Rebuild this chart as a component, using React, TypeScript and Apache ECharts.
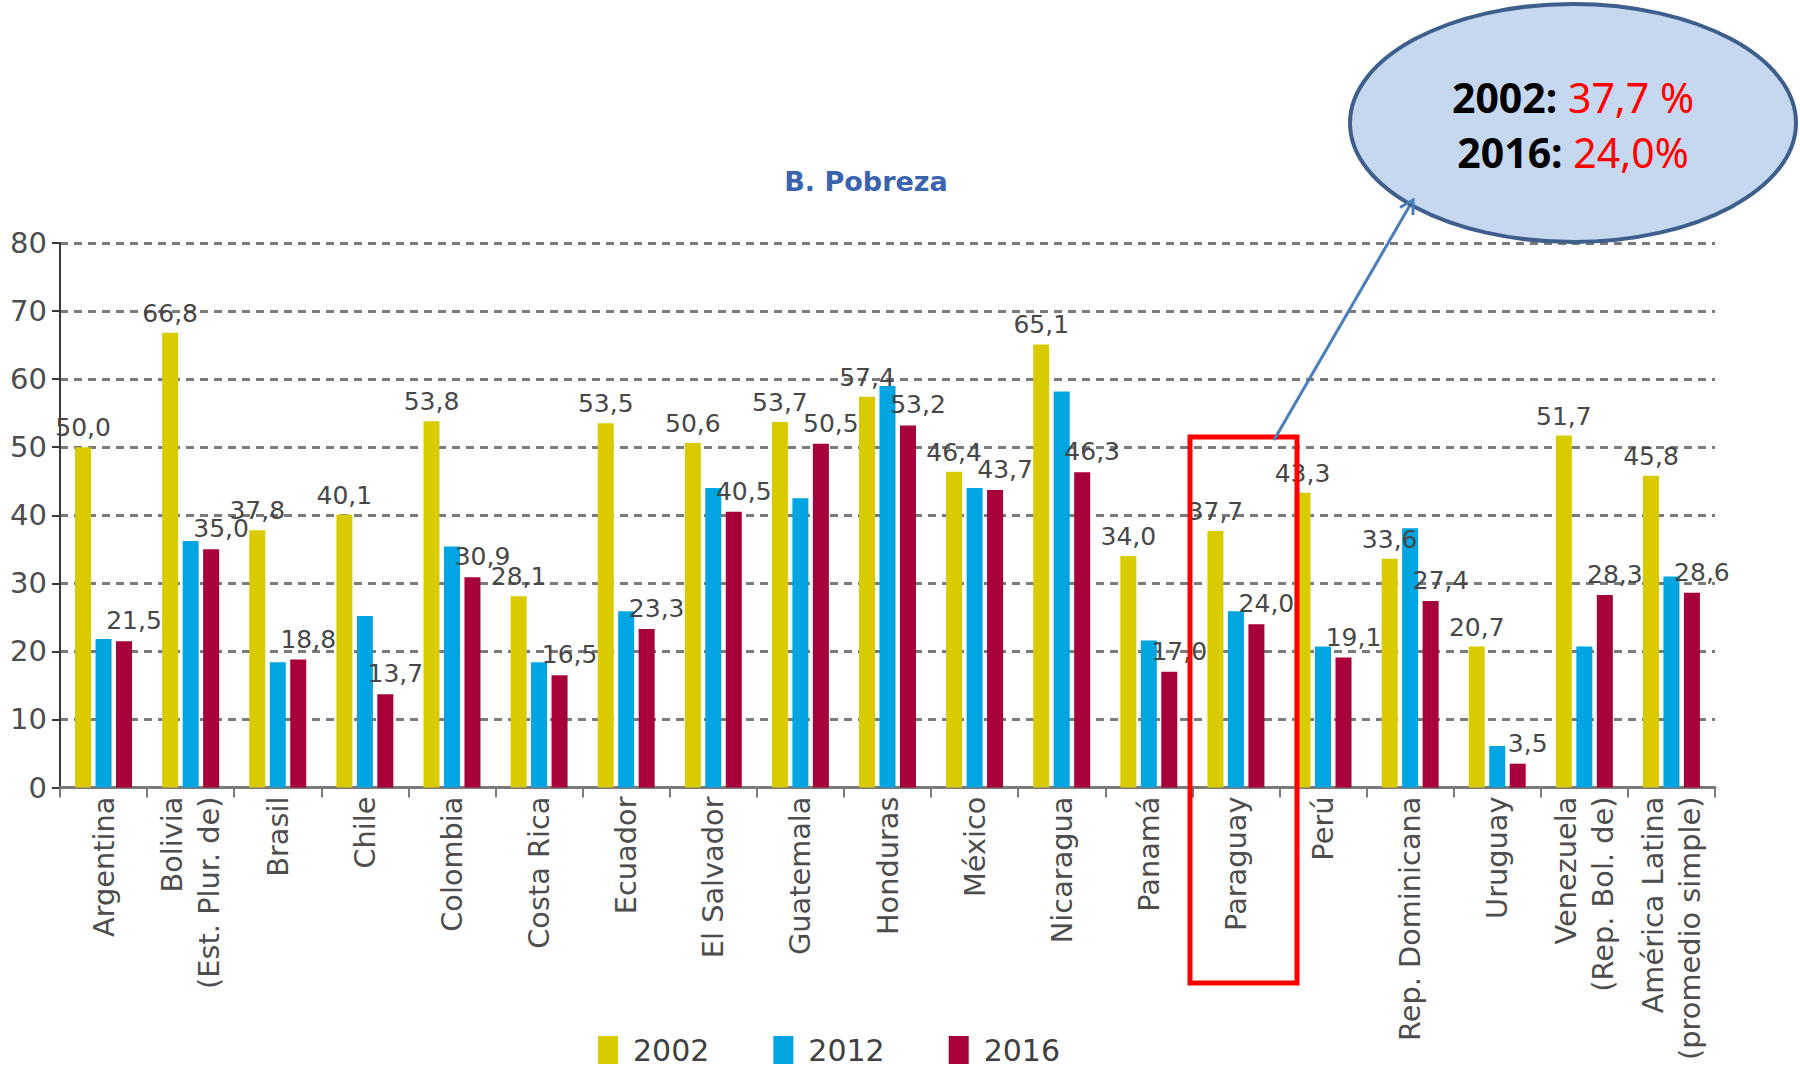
import React, { useEffect, useRef } from "react";
import * as echarts from "echarts";

const categories = [
  "Argentina",
  "Bolivia\n(Est. Plur. de)",
  "Brasil",
  "Chile",
  "Colombia",
  "Costa Rica",
  "Ecuador",
  "El Salvador",
  "Guatemala",
  "Honduras",
  "México",
  "Nicaragua",
  "Panamá",
  "Paraguay",
  "Perú",
  "Rep. Dominicana",
  "Uruguay",
  "Venezuela\n(Rep. Bol. de)",
  "América Latina\n(promedio simple)",
];
const seriesNames = ["2002", "2012", "2016"];
const values2002 = [50.0, 66.8, 37.8, 40.1, 53.8, 28.1, 53.5, 50.6, 53.7, 57.4, 46.4, 65.1, 34.0, 37.7, 43.3, 33.6, 20.7, 51.7, 45.8];
const values2012 = [21.8, 36.2, 18.4, 25.2, 35.4, 18.4, 25.9, 44.0, 42.5, 59.0, 44.0, 58.2, 21.6, 25.9, 20.7, 38.1, 6.1, 20.7, 31.0];
const values2016 = [21.5, 35.0, 18.8, 13.7, 30.9, 16.5, 23.3, 40.5, 50.5, 53.2, 43.7, 46.3, 17.0, 24.0, 19.1, 27.4, 3.5, 28.3, 28.6];
const yMin = 0;
const yMax = 80;
const yInterval = 10;

const titleText = "B. Pobreza";
const noteLine1 = ["2002:", "37,7 %"];
const noteLine2 = ["2016:", "24,0%"];

const colors = ["#D9CB00", "#00A5E2", "#A8003B"];
const FONT = "DejaVu Sans";

const fmt = (p: any) => Number(p.value).toFixed(1).replace(".", ",");

export default function App() {
  const ref = useRef<HTMLDivElement>(null);
  useEffect(() => {
    if (!ref.current) return;
    const chart = echarts.init(ref.current, undefined, { renderer: "svg" });

    const arrowStart = [1274, 440];
    const arrowEnd = [1413, 200];
    const dx = arrowEnd[0] - arrowStart[0];
    const dy = arrowEnd[1] - arrowStart[1];
    const len = Math.sqrt(dx * dx + dy * dy);
    const bx = -dx / len;
    const by = -dy / len;
    const ang = Math.PI / 6;
    const hl = 15;
    const h1 = [
      arrowEnd[0] + hl * (bx * Math.cos(ang) - by * Math.sin(ang)),
      arrowEnd[1] + hl * (bx * Math.sin(ang) + by * Math.cos(ang)),
    ];
    const h2 = [
      arrowEnd[0] + hl * (bx * Math.cos(-ang) - by * Math.sin(-ang)),
      arrowEnd[1] + hl * (bx * Math.sin(-ang) + by * Math.cos(-ang)),
    ];

    const labelBase = {
      show: true,
      position: "top" as const,
      formatter: fmt,
      fontFamily: FONT,
      fontSize: 25,
      color: "#474747",
    };

    chart.setOption({
      animation: false,
      backgroundColor: "#ffffff",
      color: colors,
      grid: {
        left: 60,
        right: 85,
        top: 243,
        bottom: 279.5,
        containLabel: false,
        outerBoundsMode: "none",
      },
      legend: {
        data: seriesNames,
        left: 593,
        top: 1030,
        itemWidth: 20,
        itemHeight: 28,
        itemGap: 64,
        icon: "rect",
        textStyle: {
          fontFamily: FONT,
          fontSize: 30,
          lineHeight: 30,
          color: "#404040",
          padding: [0, 0, 0, 10],
        },
      },
      xAxis: {
        type: "category",
        data: categories,
        axisLine: { show: true, lineStyle: { color: "#7a7a7a", width: 3 } },
        axisTick: { show: true, length: 10, lineStyle: { color: "#7a7a7a", width: 2 } },
        axisLabel: {
          rotate: 90,
          interval: 0,
          margin: 9,
          fontFamily: FONT,
          fontSize: 28.8,
          lineHeight: 37,
          color: "#4d4d4d",
        },
      },
      yAxis: {
        type: "value",
        min: yMin,
        max: yMax,
        interval: yInterval,
        axisLine: { show: true, lineStyle: { color: "#3a3a3a", width: 2 } },
        axisTick: { show: true, length: 8, lineStyle: { color: "#3a3a3a", width: 2 } },
        axisLabel: { fontFamily: FONT, fontSize: 29, color: "#4d4d4d", margin: 13 },
        splitLine: {
          show: true,
          lineStyle: { color: "#7a7a7a", width: 3, type: [8, 6] },
        },
      },
      series: [
        {
          name: seriesNames[0],
          type: "bar",
          data: values2002,
          barWidth: 16,
          barGap: "28%",
          label: { ...labelBase, distance: 7 },
        },
        {
          name: seriesNames[1],
          type: "bar",
          data: values2012,
          barWidth: 16,
          barGap: "28%",
        },
        {
          name: seriesNames[2],
          type: "bar",
          data: values2016,
          barWidth: 16,
          barGap: "28%",
          label: { ...labelBase, distance: 8, offset: [10, 0] },
        },
      ],
      graphic: [
        {
          type: "text",
          x: 866,
          y: 181,
          style: {
            text: titleText,
            fontFamily: FONT,
            fontWeight: "bold",
            fontSize: 27,
            fill: "#3B64B0",
            align: "center",
            verticalAlign: "middle",
          },
        },
        {
          type: "rect",
          shape: { x: 1190, y: 437, width: 107, height: 546 },
          style: { fill: "none", stroke: "#FF0000", lineWidth: 5 },
          z: 100,
        },
        {
          type: "line",
          shape: { x1: arrowStart[0], y1: arrowStart[1], x2: arrowEnd[0], y2: arrowEnd[1] },
          style: { stroke: "#4A7EBB", lineWidth: 3 },
          z: 100,
        },
        {
          type: "ellipse",
          shape: { cx: 1573, cy: 123, rx: 223, ry: 119 },
          style: { fill: "#C6D8EF", stroke: "#3E5F8C", lineWidth: 4 },
          z: 101,
        },
        {
          type: "polyline",
          shape: { points: [h1, arrowEnd, h2] },
          style: { stroke: "#4A7EBB", lineWidth: 3, fill: "none" },
          z: 102,
        },
        {
          type: "text",
          x: 1573,
          y: 124,
          z: 103,
          style: {
            text:
              "{b|" + noteLine1[0] + "} {r|" + noteLine1[1] + "}\n{b|" + noteLine2[0] + "} {r|" + noteLine2[1] + "}",
            align: "center",
            verticalAlign: "middle",
            fontFamily: "Noto Sans",
            fontSize: 41,
            lineHeight: 55,
            rich: {
              b: { fontFamily: "Noto Sans", fontSize: 41, fontWeight: "bold", fill: "#000000", lineHeight: 55 },
              r: { fontFamily: "Noto Sans", fontSize: 41, fill: "#FF0000", lineHeight: 55 },
            },
          },
        },
      ],
    });
    return () => chart.dispose();
  }, []);
  return (
    <div
      ref={ref}
      style={{ position: "fixed", left: 0, top: 0, width: 1800, height: 1067, background: "#fff" }}
    />
  );
}
